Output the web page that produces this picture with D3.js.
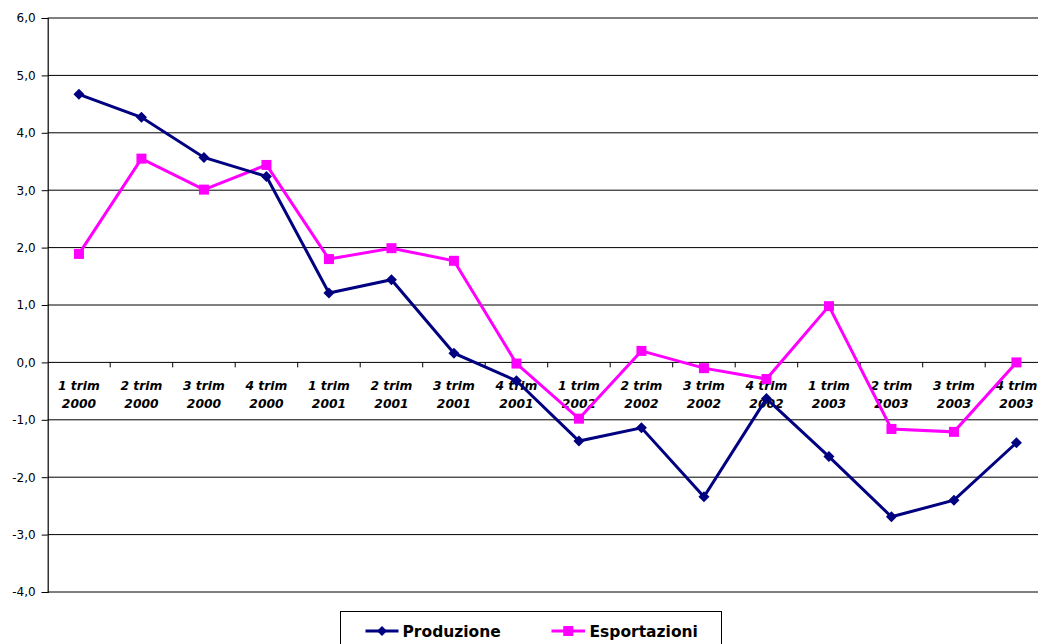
<!DOCTYPE html>
<html>
<head>
<meta charset="utf-8">
<script src="https://cdn.jsdelivr.net/npm/d3@7/dist/d3.min.js"></script>
<style>
  html, body { margin: 0; padding: 0; background: #fff; overflow: hidden; }
  svg { display: block; }
</style>
</head>
<body>
<svg id="chart" width="1038" height="644"></svg>
<script>
// Quarterly labels (two lines each)
const quarters = ["1 trim", "2 trim", "3 trim", "4 trim"];
const years = ["2000", "2001", "2002", "2003"];
const categories = years.flatMap(yr => quarters.map(q => q + "|" + yr));

// Year-on-year changes (%)
const produzione = [4.67, 4.27, 3.57, 3.24, 1.21, 1.44, 0.16, -0.32,
                    -1.37, -1.14, -2.34, -0.63, -1.64, -2.69, -2.40, -1.40];
const esportazioni = [1.89, 3.55, 3.01, 3.44, 1.80, 1.99, 1.77, -0.02,
                      -0.98, 0.20, -0.10, -0.29, 0.98, -1.16, -1.21, 0.00];

const yTicks = [6, 5, 4, 3, 2, 1, 0, -1, -2, -3, -4];
const seriesNames = ["Produzione", "Esportazioni"];

const svg = d3.select("#chart");
const plotLeft = 47.7, plotRight = 1047.7, plotTop = 18, plotBottom = 592;

const x = d3.scaleBand().domain(categories).range([plotLeft, plotRight]).paddingInner(0).paddingOuter(0);
const y = d3.scaleLinear().domain([-4, 6]).range([plotBottom, plotTop]);
const fmt = v => d3.format(".1f")(v).replace(".", ",").replace("−", "-");

// Horizontal gridlines
svg.append("g").selectAll("line").data(yTicks).join("line")
  .attr("x1", plotLeft).attr("x2", plotRight)
  .attr("y1", d => y(d)).attr("y2", d => y(d))
  .attr("stroke", "#000").attr("stroke-width", 1);

// Y axis
const yAxis = d3.axisLeft(y).tickValues(yTicks).tickSize(6).tickPadding(6).tickFormat(fmt);
const gy = svg.append("g").attr("transform", `translate(${plotLeft},0)`).call(yAxis);
gy.select(".domain").attr("stroke", "#000").attr("stroke-width", 1.2);
gy.selectAll(".tick line").attr("stroke", "#000");
gy.selectAll(".tick text")
  .attr("font-family", "DejaVu Sans, Verdana, sans-serif")
  .attr("font-size", 12).attr("fill", "#000");

// X axis along zero line: tick marks at band boundaries
const boundaries = categories.slice(1).map(c => x(c));
svg.append("g").selectAll("line").data(boundaries).join("line")
  .attr("x1", d => d).attr("x2", d => d)
  .attr("y1", y(0)).attr("y2", y(0) + 5)
  .attr("stroke", "#000").attr("stroke-width", 1);

// Category labels
const labels = svg.append("g")
  .attr("font-family", "DejaVu Sans, Verdana, sans-serif")
  .attr("font-size", 12.3).attr("font-weight", "bold").attr("font-style", "italic")
  .attr("text-anchor", "middle").attr("fill", "#000");
labels.selectAll("text").data(categories).join("text")
  .attr("x", d => x(d) + x.bandwidth() / 2)
  .attr("y", y(0) + 27.5)
  .each(function(d) {
    const [a, b] = d.split("|");
    const t = d3.select(this);
    t.append("tspan").attr("x", x(d) + x.bandwidth() / 2).text(a);
    t.append("tspan").attr("x", x(d) + x.bandwidth() / 2).attr("dy", 18.5).text(b);
  });

const cx = (d, i) => x(categories[i]) + x.bandwidth() / 2;
const line = d3.line().x((d, i) => cx(d, i)).y(d => y(d));

// Esportazioni (magenta, squares)
svg.append("path").datum(esportazioni)
  .attr("d", line).attr("fill", "none")
  .attr("stroke", "#FF00FF").attr("stroke-width", 3).attr("stroke-linejoin", "miter");
svg.append("g").selectAll("rect").data(esportazioni).join("rect")
  .attr("x", (d, i) => cx(d, i) - 5).attr("y", d => y(d) - 5)
  .attr("width", 10).attr("height", 10).attr("fill", "#FF00FF");

// Produzione (navy, diamonds)
svg.append("path").datum(produzione)
  .attr("d", line).attr("fill", "none")
  .attr("stroke", "#000080").attr("stroke-width", 3).attr("stroke-linejoin", "miter");
const diamond = s => `M0,${-s}L${s},0L0,${s}L${-s},0Z`;
svg.append("g").selectAll("path").data(produzione).join("path")
  .attr("transform", (d, i) => `translate(${cx(d, i)},${y(d)})`)
  .attr("d", diamond(5.5)).attr("fill", "#000080");

// Legend
const lg = svg.append("g");
lg.append("rect").attr("x", 340.5).attr("y", 611.5).attr("width", 381).attr("height", 40)
  .attr("fill", "#fff").attr("stroke", "#000").attr("stroke-width", 1);
const legendItems = [
  { name: seriesNames[0], color: "#000080", x0: 365.5, x1: 398.5, tx: 402.5, shape: "diamond" },
  { name: seriesNames[1], color: "#FF00FF", x0: 551.5, x1: 585, tx: 589.5, shape: "square" }
];
const ly = 631;
legendItems.forEach(it => {
  lg.append("line").attr("x1", it.x0).attr("x2", it.x1).attr("y1", ly).attr("y2", ly)
    .attr("stroke", it.color).attr("stroke-width", 3);
  const mx = (it.x0 + it.x1) / 2;
  if (it.shape === "diamond") {
    lg.append("path").attr("transform", `translate(${mx},${ly})`).attr("d", diamond(5)).attr("fill", it.color);
  } else {
    lg.append("rect").attr("x", mx - 5).attr("y", ly - 5).attr("width", 10).attr("height", 10).attr("fill", it.color);
  }
  lg.append("text").attr("x", it.tx).attr("y", 637)
    .attr("font-family", "DejaVu Sans, Verdana, sans-serif")
    .attr("font-size", 15.5).attr("font-weight", "bold").attr("fill", "#000")
    .text(it.name);
});
</script>
</body>
</html>
